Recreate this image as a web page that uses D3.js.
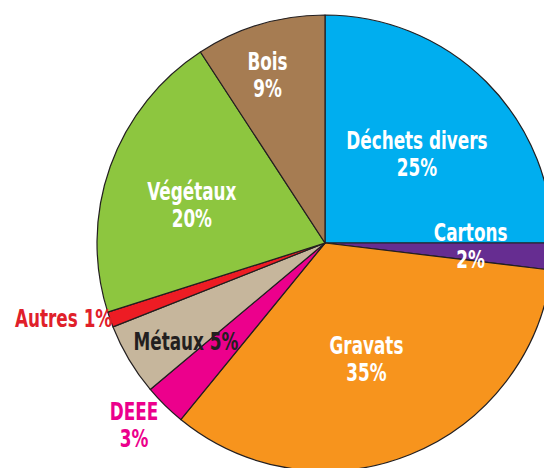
<!DOCTYPE html>
<html lang="fr">
  <head>
    <meta charset="utf-8">
    <title>Déchets</title>
    <script src="https://d3js.org/d3.v7.min.js"></script>
    <style>
      body { margin: 0; background: #fff; }
      text {
        font-family: "DejaVu Sans Condensed", "DejaVu Sans", sans-serif;
        font-weight: bold;
        font-size: 24px;
      }
    </style>
  </head>
  <body>
    <svg id="chart" width="544" height="468"></svg>
    <script>
      var categories = ["Déchets divers", "Cartons", "Gravats", "DEEE", "Métaux", "Autres", "Végétaux", "Bois"];
      var values = [25, 1.9, 34, 3, 5.1, 1.1, 20.7, 9.2];
      var pctLabels = ["25%", "2%", "35%", "3%", "5%", "1%", "20%", "9%"];
      var colors = ["#00aeef", "#662d91", "#f7941d", "#ec008c", "#c6b69c", "#ed1c24", "#8dc63f", "#a67c52"];

      var width = 544, height = 468;
      var cx = 325, cy = 243, radius = 228;
      var squeeze = 0.78; // condensed face

      // label placement: radius fraction, nudge, colour, layout
      var labelCfg = {
        "Déchets divers": {r: 0.57, dx: 0, dy: 12, color: "#fff", lines: 2},
        "Cartons":        {r: 0.64, dx: 0, dy: 3, color: "#fff", lines: 2},
        "Gravats":        {r: 0.58, dx: -8, dy: 2, color: "#fff", lines: 2},
        "DEEE":           {r: 1.18, dx: -2, dy: 0, color: "#ec008c", lines: 2},
        "Métaux":         {r: 0.70, dx: -2, dy: 18, color: "#231f20", lines: 1},
        "Autres":         {r: 1.0, dx: 2, dy: 0, color: "#e0202a", lines: 1, anchor: "end"},
        "Végétaux":       {r: 0.62, dx: 0, dy: 18, color: "#fff", lines: 2},
        "Bois":           {r: 0.73, dx: -10, dy: 1, color: "#fff", lines: 2}
      };

      var svg = d3.select("#chart");
      var g = svg.append("g").attr("transform", "translate(" + cx + "," + cy + ")");

      var pie = d3.pie().sort(null).value(function(d) { return d.value; });
      var data = pie(categories.map(function(c, i) {
        return {name: c, value: values[i], pct: pctLabels[i], color: colors[i]};
      }));

      var arc = d3.arc().innerRadius(0).outerRadius(radius);

      g.selectAll("path.slice")
        .data(data)
        .enter()
        .append("path")
        .attr("class", "slice")
        .attr("d", arc)
        .attr("fill", function(d) { return d.data.color; })
        .attr("stroke", "#231f20")
        .attr("stroke-width", 1.2)
        .attr("stroke-linejoin", "round");

      var labels = g.selectAll("text.lbl")
        .data(data)
        .enter()
        .append("text")
        .attr("class", "lbl")
        .attr("fill", function(d) { return labelCfg[d.data.name].color; })
        .attr("text-anchor", function(d) { return labelCfg[d.data.name].anchor || "middle"; })
        .attr("transform", function(d) {
          var c = labelCfg[d.data.name];
          var p = d3.arc().innerRadius(radius * c.r).outerRadius(radius * c.r).centroid(d);
          return "translate(" + (p[0] + c.dx) + "," + (p[1] + c.dy) + ") scale(" + squeeze + ",1)";
        });

      labels.each(function(d) {
        var c = labelCfg[d.data.name];
        var t = d3.select(this);
        if (c.lines === 2) {
          t.append("tspan").attr("x", 0).attr("y", -14).text(d.data.name);
          t.append("tspan").attr("x", 0).attr("y", 13).text(d.data.pct);
        } else {
          t.append("tspan").attr("x", 0).attr("y", 7).text(d.data.name + " " + d.data.pct);
        }
      });
    </script>
  </body>
</html>
